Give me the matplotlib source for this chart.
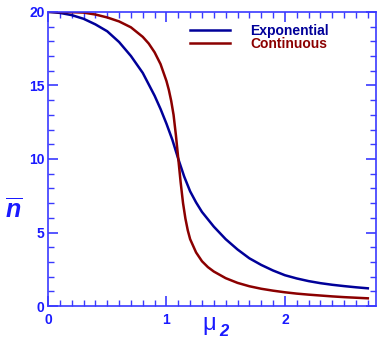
import matplotlib
matplotlib.use("Agg")
import matplotlib.pyplot as plt
from matplotlib.ticker import MultipleLocator

# values
mu2_exp = [0.0, 0.1, 0.2, 0.3, 0.4, 0.5, 0.6, 0.7, 0.8, 0.9, 0.95, 1.0, 1.05, 1.1,
           1.15, 1.2, 1.25, 1.3, 1.4, 1.5, 1.6, 1.7, 1.8, 1.9, 2.0, 2.1, 2.2, 2.3,
           2.4, 2.5, 2.6, 2.7]
n_exp = [20.0, 19.93, 19.78, 19.53, 19.15, 18.68, 17.95, 17.0, 15.85, 14.3, 13.4, 12.4,
         11.3, 10.0, 8.8, 7.8, 7.05, 6.4, 5.4, 4.55, 3.85, 3.25, 2.8, 2.42, 2.1, 1.88,
         1.7, 1.56, 1.45, 1.36, 1.28, 1.21]

mu2_cont = [0.0, 0.2, 0.3, 0.4, 0.5, 0.6, 0.7, 0.8, 0.85, 0.9, 0.95, 1.0, 1.02, 1.04,
            1.06, 1.08, 1.1, 1.12, 1.14, 1.16, 1.18, 1.2, 1.25, 1.3, 1.35, 1.4, 1.5,
            1.6, 1.7, 1.8, 1.9, 2.0, 2.1, 2.2, 2.3, 2.4, 2.5, 2.6, 2.7]
n_cont = [20.0, 19.98, 19.95, 19.82, 19.62, 19.35, 18.95, 18.3, 17.85, 17.25, 16.45, 15.3,
          14.7, 13.95, 13.0, 11.6, 10.0, 8.4, 7.0, 5.95, 5.15, 4.55, 3.65, 3.05, 2.65,
          2.35, 1.9, 1.58, 1.35, 1.18, 1.05, 0.94, 0.85, 0.78, 0.72, 0.66, 0.61, 0.57,
          0.53]

labels = ["Exponential", "Continuous"]
colors = ["#000099", "#8b0000"]

plt.rcParams["font.family"] = ["Liberation Sans", "DejaVu Sans"]
plt.rcParams["mathtext.fontset"] = "custom"
plt.rcParams["mathtext.it"] = "Liberation Sans:italic:bold"
plt.rcParams["mathtext.rm"] = "Liberation Sans"

txt_blue = "#1a1aff"
ax_blue = "#3a3aff"

fig = plt.figure(figsize=(3.78, 3.39), dpi=100)
ax = fig.add_axes([0.127, 0.097, 0.868, 0.868])

ax.plot(mu2_exp, n_exp, color=colors[0], lw=1.8, label=labels[0])
ax.plot(mu2_cont, n_cont, color=colors[1], lw=1.8, label=labels[1])

ax.set_xlim(0, 2.77)
ax.set_ylim(0, 20)
ax.xaxis.set_major_locator(MultipleLocator(1))
ax.xaxis.set_minor_locator(MultipleLocator(0.1))
ax.yaxis.set_major_locator(MultipleLocator(5))
ax.yaxis.set_minor_locator(MultipleLocator(1))

for s in ax.spines.values():
    s.set_color(ax_blue)
    s.set_linewidth(1.2)

ax.tick_params(which="both", direction="in", top=True, right=True, colors=ax_blue,
               labelcolor=txt_blue)
ax.tick_params(which="major", length=7, width=1.2, labelsize=10)
ax.tick_params(which="minor", length=4, width=1.0)
ax.tick_params(axis="x", which="major", pad=5)
ax.tick_params(axis="y", which="major", pad=2.5)
for lab in ax.get_xticklabels() + ax.get_yticklabels():
    lab.set_fontweight("bold")

# x label: upright mu with a bold italic "2"
fig.text(202 / 378, 1 - 330 / 339, "\u03bc", color=txt_blue, fontsize=17,
         va="baseline", ha="left")
fig.text(219 / 378, 1 - 336 / 339, "2", color=txt_blue, fontsize=12,
         fontweight="bold", fontstyle="italic", va="baseline", ha="left")

ax.set_ylabel(r"$\overline{n}$", color=txt_blue, fontsize=18, rotation=0,
              va="center", ha="center")
ax.yaxis.set_label_coords(-0.105, 0.325)

leg = ax.legend(loc="upper left", bbox_to_anchor=(0.433, 0.958), frameon=False,
                borderpad=0, borderaxespad=0,
                handlelength=2.9, handletextpad=1.45, labelspacing=-0.08,
                labelcolor="linecolor", prop={"weight": "bold", "size": 10})

fig.savefig("out.png", dpi=100)
